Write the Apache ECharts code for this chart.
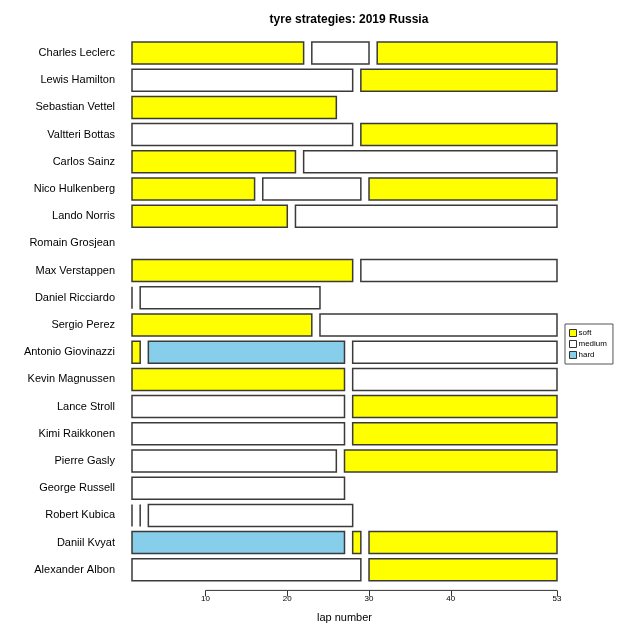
<!DOCTYPE html>
<html>
<head>
<meta charset="utf-8">
<script src="https://cdn.jsdelivr.net/npm/echarts@6/dist/echarts.min.js"></script>
<style>html,body{margin:0;padding:0;background:#fff}#c{width:640px;height:640px}</style>
</head>
<body>
<div id="c"></div>
<script>
const drivers = ['Charles Leclerc','Lewis Hamilton','Sebastian Vettel','Valtteri Bottas','Carlos Sainz','Nico Hulkenberg','Lando Norris','Romain Grosjean','Max Verstappen','Daniel Ricciardo','Sergio Perez','Antonio Giovinazzi','Kevin Magnussen','Lance Stroll','Kimi Raikkonen','Pierre Gasly','George Russell','Robert Kubica','Daniil Kvyat','Alexander Albon'];
// [driver, first lap, last lap]
const softStints = [
  ['Charles Leclerc',1,22],['Charles Leclerc',31,53],
  ['Lewis Hamilton',29,53],
  ['Sebastian Vettel',1,26],
  ['Valtteri Bottas',29,53],
  ['Carlos Sainz',1,21],
  ['Nico Hulkenberg',1,16],['Nico Hulkenberg',30,53],
  ['Lando Norris',1,20],
  ['Max Verstappen',1,28],
  ['Sergio Perez',1,23],
  ['Antonio Giovinazzi',1,2],
  ['Kevin Magnussen',1,27],
  ['Lance Stroll',28,53],
  ['Kimi Raikkonen',28,53],
  ['Pierre Gasly',27,53],
  ['Daniil Kvyat',28,29],['Daniil Kvyat',30,53],
  ['Alexander Albon',30,53]
];
const mediumStints = [
  ['Charles Leclerc',23,30],
  ['Lewis Hamilton',1,28],
  ['Valtteri Bottas',1,28],
  ['Carlos Sainz',22,53],
  ['Nico Hulkenberg',17,29],
  ['Lando Norris',21,53],
  ['Max Verstappen',29,53],
  ['Daniel Ricciardo',1,1],['Daniel Ricciardo',2,24],
  ['Sergio Perez',24,53],
  ['Antonio Giovinazzi',28,53],
  ['Kevin Magnussen',28,53],
  ['Lance Stroll',1,27],
  ['Kimi Raikkonen',1,27],
  ['Pierre Gasly',1,26],
  ['George Russell',1,27],
  ['Robert Kubica',1,1],['Robert Kubica',2,2],['Robert Kubica',3,28],
  ['Alexander Albon',1,29]
];
const hardStints = [
  ['Antonio Giovinazzi',3,27],
  ['Daniil Kvyat',1,27]
];
const lapTicks = [10,20,30,40,53];
const compoundColors = {soft:'#FFFF00', medium:'#FFFFFF', hard:'#87CEEB'};

const border = '#3a3a3a';
function stintItem(params, api){
  const cat = api.value(0);
  const p0 = api.coord([api.value(1), cat]);
  const p1 = api.coord([api.value(2), cat]);
  const h = api.size([0,1])[1]*0.81;
  return {
    type:'rect',
    shape:{x:p0[0], y:p0[1]-h/2, width:p1[0]-p0[0], height:h},
    style:{fill:api.visual('color'), stroke:border, lineWidth:1.5}
  };
}
function stintSeries(name, data){
  return {
    name:name, type:'custom', renderItem:stintItem,
    itemStyle:{color:compoundColors[name], borderColor:border, borderWidth:1},
    encode:{x:[1,2], y:0},
    data:data, clip:false
  };
}
const chart = echarts.init(document.getElementById('c'), null, {renderer:'canvas'});
chart.setOption({
  animation:false,
  backgroundColor:'#fff',
  title:{text:'tyre strategies: 2019 Russia', left:344, top:9, textAlign:'center',
    textStyle:{fontFamily:'Liberation Sans', fontSize:12, fontWeight:'bold', color:'#000'}},
  legend:{
    orient:'vertical', left:565, top:324, icon:'rect', itemWidth:7, itemHeight:7, itemGap:3,
    padding:[5,6,5,4], borderColor:'#555', borderWidth:1,
    textStyle:{fontFamily:'Liberation Sans', fontSize:8, color:'#000', padding:[0,0,0,-3]},
    data:[
      {name:'soft', itemStyle:{borderColor:'#333', borderWidth:1}},
      {name:'medium', itemStyle:{borderColor:'#333', borderWidth:1}},
      {name:'hard', itemStyle:{borderColor:'#333', borderWidth:1}}
    ]
  },
  grid:{left:132, right:83, top:39.4, bottom:56.6, containLabel:false},
  xAxis:{
    type:'value', min:1, max:53, offset:7,
    name:'lap number', nameLocation:'middle', nameGap:22,
    nameTextStyle:{fontFamily:'Liberation Sans', fontSize:11, color:'#000'},
    axisLine:{show:false},
    splitLine:{show:false},
    axisTick:{show:true, customValues:lapTicks, length:6, lineStyle:{color:'#333'}},
    axisLabel:{customValues:lapTicks, fontFamily:'Liberation Sans', fontSize:8, color:'#000', margin:4}
  },
  yAxis:{
    type:'category', data:drivers, inverse:true,
    axisLine:{show:false}, axisTick:{show:false}, splitLine:{show:false},
    axisLabel:{fontFamily:'Liberation Sans', fontSize:11, color:'#000', margin:17}
  },
  series:[
    stintSeries('soft', softStints),
    stintSeries('medium', mediumStints),
    stintSeries('hard', hardStints),
    {
      type:'custom', silent:true, clip:false, legendHoverLink:false,
      data:[[lapTicks[0], lapTicks[lapTicks.length-1]]],
      encode:{x:[0,1]},
      renderItem:function(params, api){
        const cs = params.coordSys;
        const a = api.coord([api.value(0), 0]);
        const b = api.coord([api.value(1), 0]);
        const y = cs.y + cs.height + 7;
        return {type:'line', shape:{x1:a[0], y1:y, x2:b[0], y2:y}, style:{stroke:'#333', lineWidth:1}};
      }
    }
  ]
});
</script>
</body>
</html>
